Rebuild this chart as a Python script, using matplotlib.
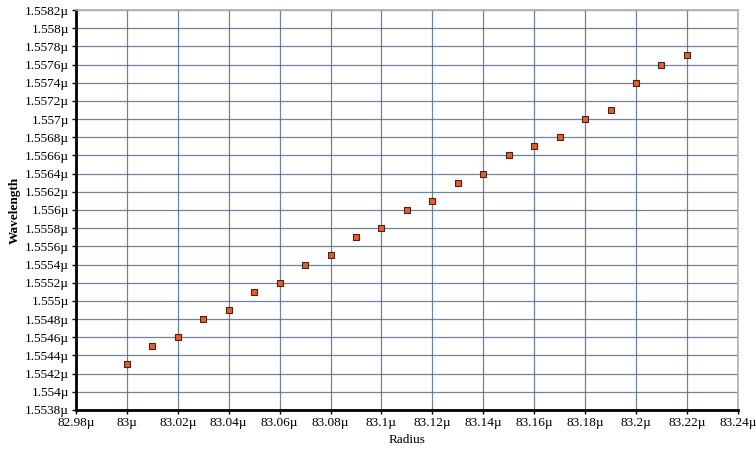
import matplotlib
matplotlib.use("Agg")
import matplotlib.pyplot as plt
from matplotlib.ticker import FuncFormatter, MultipleLocator
import numpy as np

radius = [83.00, 83.01, 83.02, 83.03, 83.04, 83.05, 83.06, 83.07, 83.08, 83.09,
          83.10, 83.11, 83.12, 83.13, 83.14, 83.15, 83.16, 83.17, 83.18, 83.19,
          83.20, 83.21, 83.22]
wavelength = [1.5543, 1.5545, 1.5546, 1.5548, 1.5549, 1.5551, 1.5552, 1.5554, 1.5555, 1.5557,
              1.5558, 1.5560, 1.5561, 1.5563, 1.5564, 1.5566, 1.5567, 1.5568, 1.5570, 1.5571,
              1.5574, 1.5576, 1.5577]

plt.rcParams['font.family'] = ['Liberation Serif', 'DejaVu Serif']

fig = plt.figure(figsize=(7.56, 4.49), dpi=100)
ax = fig.add_axes([0.1005, 0.087, 0.8755, 0.8907])

ax.set_xlim(82.98, 83.24)
ax.set_ylim(1.5538, 1.5582)
ax.xaxis.set_major_locator(MultipleLocator(0.02))
ax.yaxis.set_major_locator(MultipleLocator(0.0002))

def fmt(v, pos, nd):
    s = f"{v:.{nd}f}".rstrip('0').rstrip('.')
    return s + "µ"

ax.xaxis.set_major_formatter(FuncFormatter(lambda v, p: fmt(v, p, 2)))
ax.yaxis.set_major_formatter(FuncFormatter(lambda v, p: fmt(v, p, 4)))

ax.grid(True, color='#56708a', linewidth=0.9, alpha=0.85)
ax.set_axisbelow(True)

ax.scatter(radius, wavelength, marker='s', s=22, facecolor='#f0582a',
           edgecolor='#3a2a20', linewidth=0.8, zorder=3)

for side in ['top', 'right']:
    ax.spines[side].set_color('#b0b0b0')
    ax.spines[side].set_linewidth(1.2)
for side in ['left', 'bottom']:
    ax.spines[side].set_color('black')
    ax.spines[side].set_linewidth(2)

ax.tick_params(axis='both', labelsize=9.5, length=3, width=1, colors='black', pad=2)
ax.set_xlabel('Radius', fontsize=9.5, labelpad=4)
ax.set_ylabel('Wavelength', fontsize=9.5, labelpad=3, fontweight='bold')

fig.savefig('out.png', dpi=100, facecolor='white')
